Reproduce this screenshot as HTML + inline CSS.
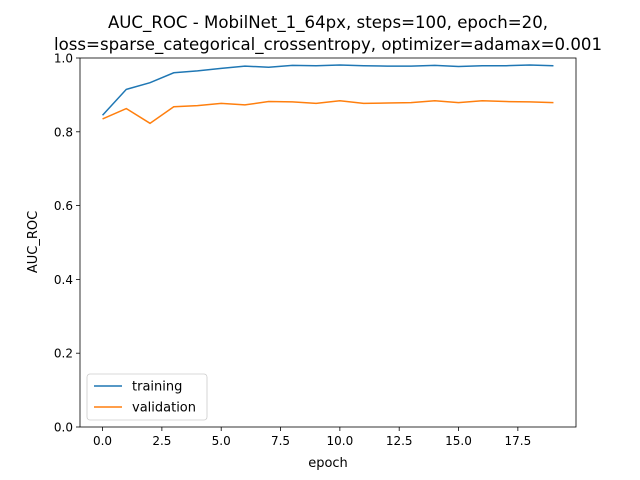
<!DOCTYPE html>
<html><head><meta charset="utf-8"><style>
body{margin:0;background:#fff;}
svg{display:block;font-family:"DejaVu Sans","Liberation Sans",sans-serif;}
</style></head><body>
<svg id="chart" width="640" height="480">
<rect x="0" y="0" width="640" height="480" fill="#fff"/>
<text x="328" y="28" font-size="16.6" text-anchor="middle">AUC_ROC - MobilNet_1_64px, steps=100, epoch=20,</text>
<text x="328" y="50" font-size="16.6" text-anchor="middle">loss=sparse_categorical_crossentropy, optimizer=adamax=0.001</text>
<g id="plot"></g>
<text x="328" y="467" font-size="13" text-anchor="middle">epoch</text>
<text transform="translate(37,242) rotate(-90)" font-size="13" text-anchor="middle">AUC_ROC</text>
</svg>
<script>
const epochs=[0,1,2,3,4,5,6,7,8,9,10,11,12,13,14,15,16,17,18,19];
const training=[0.845,0.915,0.933,0.960,0.965,0.972,0.978,0.975,0.980,0.979,0.981,0.979,0.978,0.978,0.980,0.977,0.979,0.979,0.981,0.979];
const validation=[0.835,0.863,0.823,0.868,0.871,0.877,0.873,0.882,0.881,0.877,0.884,0.877,0.878,0.879,0.884,0.879,0.884,0.882,0.881,0.879];
const xTicks=[0,2.5,5,7.5,10,12.5,15,17.5];
const xTickLabels=["0.0","2.5","5.0","7.5","10.0","12.5","15.0","17.5"];
const yTicks=[0,0.2,0.4,0.6,0.8,1.0];
const yTickLabels=["0.0","0.2","0.4","0.6","0.8","1.0"];
const L=80,R=576,T=58,B=427;
const xMin=-0.95,xMax=19.95,yMin=0,yMax=1;
const sx=v=>L+(v-xMin)/(xMax-xMin)*(R-L);
const sy=v=>B-(v-yMin)/(yMax-yMin)*(B-T);
const NS="http://www.w3.org/2000/svg";
const g=document.getElementById('plot');
function mk(t,a){const e=document.createElementNS(NS,t);for(const k in a)e.setAttribute(k,a[k]);g.appendChild(e);return e;}
xTicks.forEach((v,i)=>{
  const l=mk('line',{x1:sx(v),x2:sx(v),y1:B,y2:B+4,stroke:'#000','stroke-width':0.8});
  
  
  const t=mk('text',{x:sx(v),y:B+18,'font-size':12,'text-anchor':'middle'});
  t.textContent=xTickLabels[i];
  
  
});
yTicks.forEach((v,i)=>{
  const l=mk('line',{x1:L-4,x2:L,y1:sy(v),y2:sy(v),stroke:'#000','stroke-width':0.8});
  
  
  const t=mk('text',{x:L-7,y:sy(v)+4.5,'font-size':12,'text-anchor':'end'});
  t.textContent=yTickLabels[i];
  
  
});
function line(data,color,name){
  const p=mk('polyline',{points:epochs.map((e,i)=>sx(e)+','+sy(data[i])).join(' '),fill:'none',stroke:color,'stroke-width':1.5});
  
  
}
line(training,'#1f77b4','training-line');
line(validation,'#ff7f0e','validation-line');
const fr=mk('rect',{x:L,y:T,width:R-L,height:B-T,fill:'none',stroke:'#000','stroke-width':0.8});


const lg=mk('rect',{x:87,y:374,width:120,height:46,rx:3,fill:'#fff','fill-opacity':0.8,stroke:'#ccc','stroke-width':0.8});


[['training','#1f77b4',386],['validation','#ff7f0e',407]].forEach(([n,c,y])=>{
  const l=mk('line',{x1:94,x2:122,y1:y,y2:y,stroke:c,'stroke-width':1.5});
  
  
  const t=mk('text',{x:132,y:y+4.5,'font-size':13});
  t.textContent=n;
  
  
});
</script>
</body></html>
